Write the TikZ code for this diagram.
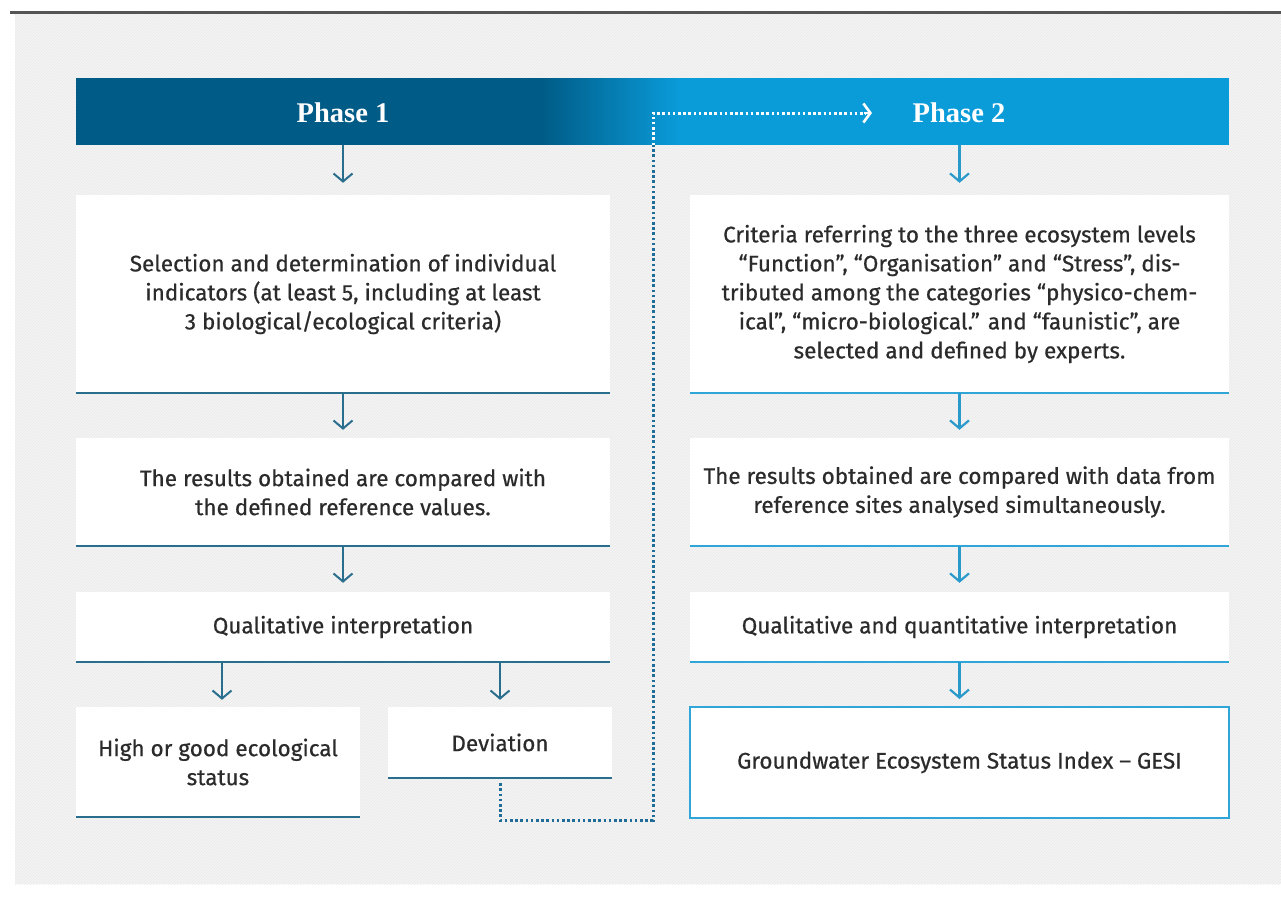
\documentclass[tikz,border=0pt]{standalone}
\usepackage{fontspec}
\setmainfont{Fira Sans}
\newfontfamily\bodyfont{Fira Sans}[FakeBold=0.6]
\newfontfamily\phasefont{Liberation Serif}
\usetikzlibrary{arrows.meta,patterns}
\definecolor{darkblue}{HTML}{005B86}
\definecolor{lightblue}{HTML}{0A9BD9}
\definecolor{lline}{HTML}{2A6E8E}
\definecolor{rline}{HTML}{30A5D8}
\definecolor{rarr}{HTML}{2A9ACB}
\definecolor{txt}{HTML}{2B2B2B}
\definecolor{bg}{HTML}{F5F5F5}
\definecolor{hatch}{HTML}{E8E8E8}
\definecolor{dotblue}{HTML}{1F6C98}
\definecolor{rulegray}{HTML}{555555}
\begin{document}
\begin{tikzpicture}[x=1pt,y=-1pt,
  box/.style={fill=white, inner sep=0pt, align=center, text=txt,
    font=\bodyfont\fontsize{22.5}{29}\selectfont},
  lbase/.style={draw=lline, line width=2pt},
  rbase/.style={draw=rline, line width=2pt},
  larrow/.style={draw=lline, line width=2pt,
    -{Straight Barb[length=8pt,width=19pt,line width=2pt]}},
  rarrow/.style={draw=rarr, line width=2.2pt,
    -{Straight Barb[length=8pt,width=19pt,line width=2.2pt]}},
  dotline/.style={line width=3pt, dash pattern=on 2.6pt off 2.6pt},
  phase/.style={text=white, font=\phasefont\bfseries\fontsize{28.5}{32}\selectfont, inner sep=2pt}
]
\useasboundingbox (0,0) rectangle (1281,897);
% background
\fill[bg] (15,14) rectangle (1281,884);
\fill[pattern=north east lines, pattern color=hatch] (15,14) rectangle (1281,884);
\draw[rulegray, line width=3pt] (10,12) -- (1281,12);

% header bar
\fill[darkblue] (76,78) rectangle (541,145);
\foreach \i in {0,...,69}{
  \pgfmathsetmacro{\pct}{100-\i*100/69}
  \fill[darkblue!\pct!lightblue] (540+2*\i,78) rectangle (543+2*\i,145);
}
\fill[lightblue] (679,78) rectangle (1229,145);
\node[inner sep=0pt, minimum width=1153pt, minimum height=67pt] (hdr) at (652.5,111.5) {};
\node[phase] (P1) at (343,113) {Phase 1};
\node[phase] (P2) at (959,113) {Phase 2};

% left column
\node[box, minimum width=534pt, minimum height=198pt] (L1) at (343,294)
  {Selection and determination of individual\\indicators (at least 5, including at least\\3 biological/ecological criteria)};
\node[box, minimum width=534pt, minimum height=108pt] (L2) at (343,492)
  {The results obtained are compared with\\the defined reference values.};
\node[box, minimum width=534pt, minimum height=70pt] (L3) at (343,627)
  {Qualitative interpretation};
\node[box, minimum width=284pt, minimum height=110pt] (L4) at (218,762)
  {High or good ecological\\status};
\node[box, minimum width=224pt, minimum height=71pt] (L5) at (500,742.5)
  {Deviation};
\foreach \n in {L1,L2,L3,L4,L5}
  \draw[lbase] (\n.south west) -- (\n.south east);

% right column
\node[box, minimum width=539pt, minimum height=198pt] (R1) at (959.5,294)
  {Criteria referring to the three ecosystem levels\\“Function”, “Organisation” and “Stress”, dis-\\tributed among the categories “physico-chem-\\ical”, “micro-biological.” and “faunistic”, are\\selected and defined by experts.};
\node[box, minimum width=539pt, minimum height=108pt] (R2) at (959.5,492)
  {The results obtained are compared with data from\\reference sites analysed simultaneously.};
\node[box, minimum width=539pt, minimum height=70pt] (R3) at (959.5,627)
  {Qualitative and quantitative interpretation};
\node[box, draw=rline, line width=2pt, minimum width=539pt, minimum height=111pt] (R4) at (959.5,762.5)
  {Groundwater Ecosystem Status Index – GESI};
\foreach \n in {R1,R2,R3}
  \draw[rbase] (\n.south west) -- (\n.south east);

% arrows
\draw[larrow, shorten >=12pt] (hdr.south -| L1.north) -- (L1.north);
\draw[larrow, shorten >=8pt] (L1.south) -- (L2.north);
\draw[larrow, shorten >=9pt] (L2.south) -- (L3.north);
\draw[larrow, shorten >=7pt] (L3.south -| 222,0) -- (L4.north -| 222,0);
\draw[larrow, shorten >=7pt] (L3.south -| L5.north) -- (L5.north |- L4.north);

\draw[rarrow, shorten >=12pt] (hdr.south -| R1.north) -- (R1.north);
\draw[rarrow, shorten >=8pt] (R1.south) -- (R2.north);
\draw[rarrow, shorten >=9pt] (R2.south) -- (R3.north);
\draw[rarrow, shorten >=7pt] (R3.south) -- (R4.north);

% dotted feedback connector
\coordinate (d1) at (653,820);
\coordinate (d2) at (653,113);
\coordinate (d3) at (872,113);
\draw[dotline, dotblue] (L5.south) ++(0,5) -- (L5.south |- d1) -- (d1) -- (d2 |- hdr.south);
\draw[dotline, white] (d2 |- hdr.south) -- (d2) -- ([xshift=-6pt]d3);
\draw[white, line width=2.6pt, -{Straight Barb[length=7pt,width=19pt,line width=2.6pt]}] ([xshift=-8pt]d3) -- (d3);
\end{tikzpicture}
\end{document}
